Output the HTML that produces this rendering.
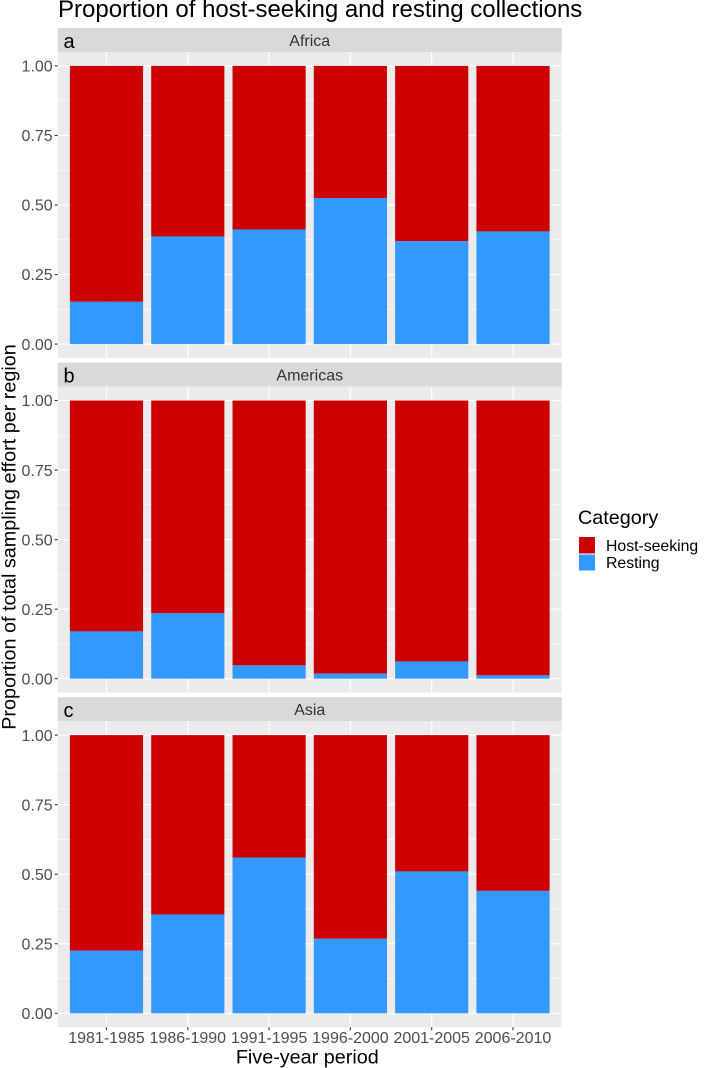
<!DOCTYPE html>
<html>
<head>
<meta charset="utf-8">
<style>
html,body{margin:0;padding:0;background:#fff}
svg{display:block}
text{font-family:"Liberation Sans",Arial,sans-serif}
</style>
</head>
<body>
<svg id="chart" width="709" height="1068" viewBox="0 0 709 1068" xmlns="http://www.w3.org/2000/svg">
<text x="58" y="17" font-size="24" fill="#000">Proportion of host-seeking and resting collections</text>
<text transform="translate(15.7,537) rotate(-90)" text-anchor="middle" font-size="19.8" fill="#000">Proportion of total sampling effort per region</text>
<text x="307.3" y="1063.3" text-anchor="middle" font-size="19.8" fill="#000">Five-year period</text>
<g>
<text x="578" y="524" font-size="19.8" fill="#000">Category</text>
<rect x="579" y="537" width="16" height="16.5" fill="#cc0000"></rect>
<text x="606" y="551" font-size="15.8" fill="#000">Host-seeking</text>
<rect x="579" y="554.5" width="16" height="16" fill="#3399ff"></rect>
<text x="606" y="568" font-size="15.8" fill="#000">Resting</text>
</g>
</svg>
<script>
const categories = ['1981-1985','1986-1990','1991-1995','1996-2000','2001-2005','2006-2010'];
const regions = ['Africa','Americas','Asia'];
const panelTags = ['a','b','c'];
const yTicks = [0, 0.25, 0.5, 0.75, 1];
const yTickLabels = ['0.00','0.25','0.50','0.75','1.00'];
const yMinorTicks = [0.125, 0.375, 0.625, 0.875];
const restingAfrica = [0.152, 0.387, 0.412, 0.525, 0.37, 0.405];
const hostAfrica = [0.848, 0.613, 0.588, 0.475, 0.63, 0.595];
const restingAmericas = [0.17, 0.235, 0.048, 0.018, 0.062, 0.012];
const hostAmericas = [0.83, 0.765, 0.952, 0.982, 0.938, 0.988];
const restingAsia = [0.225, 0.355, 0.56, 0.268, 0.51, 0.44];
const hostAsia = [0.775, 0.645, 0.44, 0.732, 0.49, 0.56];

const restingByRegion = [restingAfrica, restingAmericas, restingAsia];
const hostByRegion = [hostAfrica, hostAmericas, hostAsia];

const svg = document.getElementById('chart');
const NS = 'http://www.w3.org/2000/svg';
const plotLeft = 57.7, plotRight = 561.8;
const panelTop0 = 52, panelPitch = 334.6, panelH = 306, stripH = 24;
const step = (plotRight - plotLeft) / (categories.length + 0.2);

function xPos(i) { return plotLeft + (0.6 + i) * step; }
function panelTop(p) { return panelTop0 + p * panelPitch; }
function yPos(v, p) { return panelTop(p) + panelH * (1.05 - v) / 1.1; }

function make(tag, attrs, parent, text) {
  const el = document.createElementNS(NS, tag);
  for (const k in attrs) el.setAttribute(k, attrs[k]);
  if (text !== undefined) el.textContent = text;
  parent.appendChild(el);
  return el;
}

regions.forEach(function (region, p) {
  const top = panelTop(p);
  const slug = region.toLowerCase();

  const g = make('g', {}, svg);
  
  

  const strip = make('rect', {x: plotLeft, y: top - stripH, width: plotRight - plotLeft, height: stripH, fill: '#d9d9d9'}, g);
  
  

  const tag = make('text', {x: 63.5, y: top - 4.2, 'font-size': 20, fill: '#000'}, g, panelTags[p]);
  
  

  const stripLabel = make('text', {x: (plotLeft + plotRight) / 2, y: top - 6, 'font-size': 16, fill: '#333', 'text-anchor': 'middle'}, g, region);
  
  

  const bg = make('rect', {x: plotLeft, y: top, width: plotRight - plotLeft, height: panelH, fill: '#ebebeb'}, g);
  
  

  yMinorTicks.forEach(function (v) {
    const line = make('line', {x1: plotLeft, x2: plotRight, y1: yPos(v, p), y2: yPos(v, p), stroke: '#fff', 'stroke-width': 0.6}, g);
    
    
  });
  yTicks.forEach(function (v, i) {
    const line = make('line', {x1: plotLeft, x2: plotRight, y1: yPos(v, p), y2: yPos(v, p), stroke: '#fff', 'stroke-width': 1.2}, g);
    
    

    const tick = make('line', {x1: plotLeft - 3, x2: plotLeft, y1: yPos(v, p), y2: yPos(v, p), stroke: '#333', 'stroke-width': 1.1}, g);
    
    

    const label = make('text', {x: plotLeft - 5, y: yPos(v, p) + 5.7, 'font-size': 16, fill: '#4d4d4d', 'text-anchor': 'end'}, g, yTickLabels[i]);
    
    
  });
  categories.forEach(function (c, i) {
    const line = make('line', {x1: xPos(i), x2: xPos(i), y1: top, y2: top + panelH, stroke: '#fff', 'stroke-width': 1.2}, g);
    
    
  });

  const barW = step * 0.9;
  categories.forEach(function (c, i) {
    const r = restingByRegion[p][i];
    const h = hostByRegion[p][i];

    const hostBar = make('rect', {x: xPos(i) - barW / 2, y: yPos(r + h, p), width: barW, height: yPos(r, p) - yPos(r + h, p), fill: '#cc0000'}, g);
    
    

    const restBar = make('rect', {x: xPos(i) - barW / 2, y: yPos(r, p), width: barW, height: yPos(0, p) - yPos(r, p), fill: '#3399ff'}, g);
    
    
  });

  if (p === regions.length - 1) {
    categories.forEach(function (c, i) {
      const tick = make('line', {x1: xPos(i), x2: xPos(i), y1: top + panelH, y2: top + panelH + 3, stroke: '#333', 'stroke-width': 1.1}, g);
      
      

      const label = make('text', {x: xPos(i), y: top + panelH + 15.7, 'font-size': 16, fill: '#4d4d4d', 'text-anchor': 'middle'}, g, c);
      
      
    });
  }
});
</script>
</body>
</html>
